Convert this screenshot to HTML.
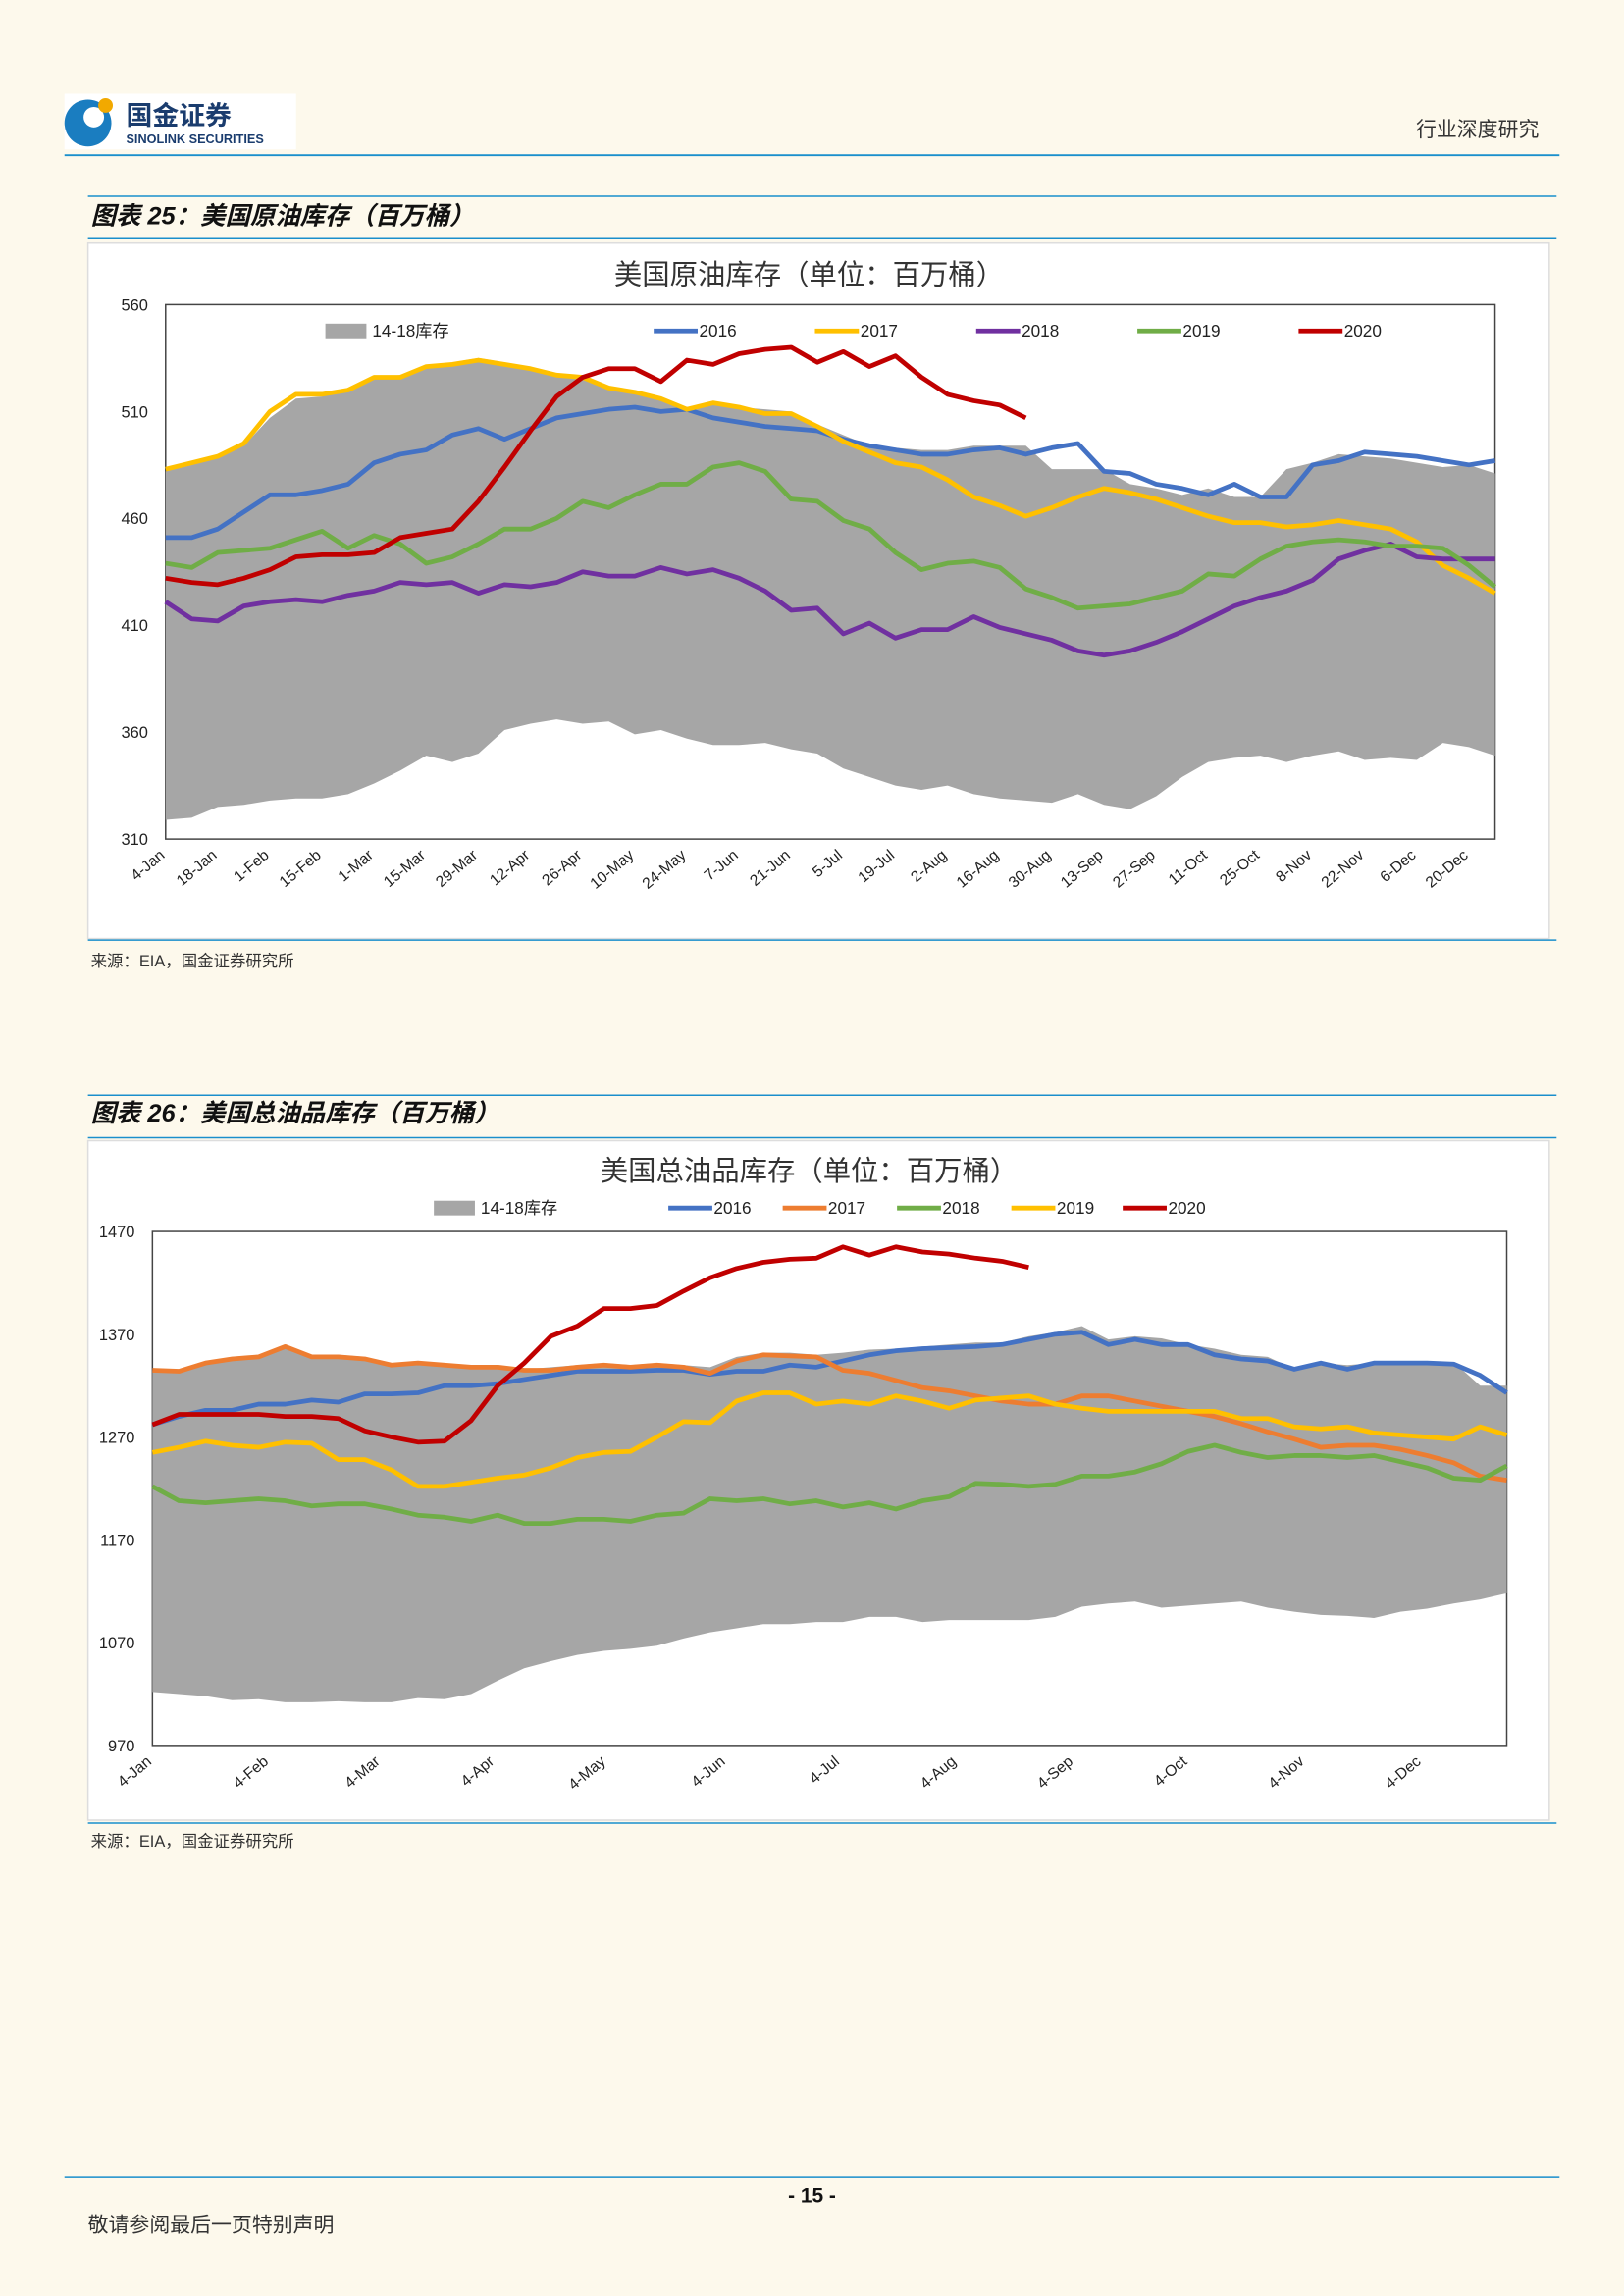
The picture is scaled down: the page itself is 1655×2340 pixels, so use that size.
<!DOCTYPE html>
<html><head><meta charset="utf-8"><style>
html,body{margin:0;padding:0;background:#fdf9ec;}
svg{display:block;}
text{font-family:"Liberation Sans","Noto Sans CJK SC",sans-serif;}
</style></head><body>
<svg id="s" width="1655" height="2340" viewBox="0 0 1108 1568" preserveAspectRatio="none" xmlns="http://www.w3.org/2000/svg">
<rect width="1108" height="1568" fill="#fdf9ec"/>
<g>
<rect x="44" y="64" width="158" height="38" fill="#fff"/>
<circle cx="60" cy="84" r="16" fill="#1a7dc0"/>
<circle cx="64" cy="80" r="7" fill="#fff"/><circle cx="72" cy="72" r="5" fill="#f2a900"/>
<text x="86" y="85" font-size="18" font-weight="bold" fill="#1a3c6e">国金证券</text>
<text x="86" y="98" font-size="8.5" font-weight="bold" fill="#1a3c6e">SINOLINK SECURITIES</text>
<text x="1050" y="93" font-size="14" text-anchor="end" fill="#333" font-family="Noto Serif CJK SC, serif">行业深度研究</text>
<line x1="44" y1="106" x2="1064" y2="106" stroke="#1a8fcc" stroke-width="1.2"/>
</g>
<g>
<line x1="60" y1="134" x2="1062" y2="134" stroke="#1a8fcc"/>
<text x="62" y="153" font-size="17" font-weight="bold" font-style="italic" fill="#111">图表 25：美国原油库存（百万桶）</text>
<line x1="60" y1="163" x2="1062" y2="163" stroke="#1a8fcc"/>
</g>
<rect x="60" y="166" width="997" height="475" fill="#fff" stroke="#ddd"/>
<line x1="60" y1="642" x2="1062" y2="642" stroke="#1a8fcc"/>
<text x="62" y="660" font-size="11" fill="#333">来源：EIA，国金证券研究所</text>
<g>
<line x1="60" y1="748" x2="1062" y2="748" stroke="#1a8fcc"/>
<text x="62" y="766" font-size="17" font-weight="bold" font-style="italic" fill="#111">图表 26：美国总油品库存（百万桶）</text>
<line x1="60" y1="777" x2="1062" y2="777" stroke="#1a8fcc"/>
</g>
<rect x="60" y="779" width="997" height="464" fill="#fff" stroke="#ddd"/>
<line x1="60" y1="1245" x2="1062" y2="1245" stroke="#1a8fcc"/>
<text x="62" y="1261" font-size="11" fill="#333">来源：EIA，国金证券研究所</text>
<g>
<line x1="44" y1="1487" x2="1064" y2="1487" stroke="#1a8fcc"/>
<text x="554" y="1504" font-size="14" font-weight="bold" text-anchor="middle" fill="#111">- 15 -</text>
<text x="60" y="1524" font-size="14" fill="#333" font-family="Noto Serif CJK SC, serif">敬请参阅最后一页特别声明</text>
</g>
<g id="c1"></g><g id="c2"></g>
</svg>
<script>
// Chart 1 data: US crude inventory (million barrels), weekly
const c1Labels=["4-Jan","18-Jan","1-Feb","15-Feb","1-Mar","15-Mar","29-Mar","12-Apr","26-Apr","10-May","24-May","7-Jun","21-Jun","5-Jul","19-Jul","2-Aug","16-Aug","30-Aug","13-Sep","27-Sep","11-Oct","25-Oct","8-Nov","22-Nov","6-Dec","20-Dec"];
const c1Ticks=[310,360,410,460,510,560];
const c1BandMax=[482,485,489,494,507,516,517,520,526,527,531,533,535,533,530,527,526,522,519,516,512,514,512,511,510,504,499,494,493,492,492,494,494,494,483,483,483,476,474,471,474,470,470,483,486,490,489,488,486,484,485,481];
const c1BandMin=[319,320,325,326,328,329,329,331,336,342,349,346,350,361,364,366,364,365,359,361,357,354,354,355,352,350,343,339,335,333,335,331,329,328,327,331,326,324,330,339,346,348,349,346,349,351,347,348,347,355,353,349];
const c1_2016=[451,451,455,463,471,471,473,476,486,490,492,499,502,497,502,507,509,511,512,510,511,507,505,503,502,501,497,494,492,490,490,492,493,490,493,495,482,481,476,474,471,476,470,470,485,487,491,490,489,487,485,487];
const c1_2017=[483,486,489,495,510,518,518,520,526,526,531,532,534,532,530,527,526,521,519,516,511,514,512,509,509,503,496,491,486,484,478,470,466,461,465,470,474,472,469,465,461,458,458,456,457,459,457,455,449,438,432,425];
const c1_2018=[421,413,412,419,421,422,421,424,426,430,429,430,425,429,428,430,435,433,433,437,434,436,432,426,417,418,406,411,404,408,408,414,409,406,403,398,396,398,402,407,413,419,423,426,431,441,445,448,442,441,441,441];
const c1_2019=[439,437,444,445,446,450,454,446,452,448,439,442,448,455,455,460,468,465,471,476,476,484,486,482,469,468,459,455,444,436,439,440,437,427,423,418,419,420,423,426,434,433,441,447,449,450,449,447,447,446,438,428];
const c1_2020=[432,430,429,432,436,442,443,443,444,451,453,455,468,484,501,517,526,530,530,524,534,532,537,539,540,533,538,531,536,526,518,515,513,507];

// Chart 2 data: US total petroleum inventory
const c2Labels=["4-Jan","4-Feb","4-Mar","4-Apr","4-May","4-Jun","4-Jul","4-Aug","4-Sep","4-Oct","4-Nov","4-Dec"];
const c2LabelWeeks=[0,4.4,8.6,12.9,17.1,21.6,25.9,30.3,34.7,39,43.4,47.8];
const c2Ticks=[970,1070,1170,1270,1370,1470];
const c2BandMax=[1335,1336,1342,1348,1350,1358,1350,1350,1348,1342,1342,1340,1338,1338,1336,1338,1340,1342,1340,1342,1340,1338,1348,1352,1352,1350,1352,1355,1356,1358,1360,1362,1362,1368,1372,1378,1365,1368,1366,1360,1356,1350,1348,1336,1342,1340,1342,1342,1342,1343,1320,1320];
const c2BandMin=[1022,1020,1018,1014,1015,1012,1012,1013,1012,1012,1016,1015,1020,1033,1045,1052,1058,1062,1064,1067,1074,1080,1084,1088,1088,1090,1090,1095,1095,1090,1092,1092,1092,1092,1095,1105,1108,1110,1104,1106,1108,1110,1104,1100,1097,1096,1094,1100,1103,1108,1112,1118];
const c2_2016=[1282,1290,1296,1296,1302,1302,1306,1304,1312,1312,1313,1320,1320,1322,1326,1330,1334,1334,1334,1335,1335,1331,1334,1334,1340,1338,1344,1350,1354,1356,1357,1358,1360,1365,1370,1372,1360,1365,1360,1360,1350,1346,1344,1336,1342,1336,1342,1342,1342,1341,1330,1313];
const c2_2017=[1335,1334,1342,1346,1348,1358,1348,1348,1346,1340,1342,1340,1338,1338,1335,1335,1338,1340,1338,1340,1338,1332,1344,1350,1349,1348,1335,1332,1325,1318,1315,1310,1305,1302,1302,1310,1310,1305,1300,1295,1290,1283,1275,1268,1260,1262,1262,1258,1252,1245,1232,1228];
const c2_2018=[1222,1208,1206,1208,1210,1208,1203,1205,1205,1200,1194,1192,1188,1194,1186,1186,1190,1190,1188,1194,1196,1210,1208,1210,1205,1208,1202,1206,1200,1208,1212,1225,1224,1222,1224,1232,1232,1236,1244,1256,1262,1255,1250,1252,1252,1250,1252,1246,1240,1230,1228,1242];
const c2_2019=[1255,1260,1266,1262,1260,1265,1264,1248,1248,1238,1222,1222,1226,1230,1233,1240,1250,1255,1256,1270,1285,1284,1305,1313,1313,1302,1305,1302,1310,1305,1298,1306,1308,1310,1302,1298,1295,1295,1295,1295,1295,1288,1288,1280,1278,1280,1274,1272,1270,1268,1280,1272];
const c2_2020=[1282,1292,1292,1292,1292,1290,1290,1288,1276,1270,1265,1266,1286,1320,1342,1368,1378,1395,1395,1398,1412,1425,1434,1440,1443,1444,1455,1447,1455,1450,1448,1444,1441,1435];

const NS="http://www.w3.org/2000/svg";
function mk(p,tag,a){const e=document.createElementNS(NS,tag);for(const k in a)e.setAttribute(k,a[k]);p.appendChild(e);return e;}

function chart(g,o){
  const xs=i=>o.x0+i*(o.x1-o.x0)/51;
  const ys=v=>o.y1-(v-o.vmin)/(o.vmax-o.vmin)*(o.y1-o.y0);
  const t=mk(g,'text',{x:o.tx,y:o.ty,'font-size':19,'text-anchor':'middle',fill:'#333'});
  
  
  t.textContent=o.title;
  const pa=mk(g,'rect',{x:o.x0,y:o.y0,width:o.x1-o.x0,height:o.y1-o.y0,fill:'#fff',stroke:'#444','stroke-width':1});
  
  
  let d='';o.bmax.forEach((v,i)=>d+=(i?'L':'M')+xs(i)+' '+ys(v));
  for(let i=o.bmin.length-1;i>=0;i--)d+='L'+xs(i)+' '+ys(o.bmin[i]);
  const band=mk(g,'path',{d:d+'Z',fill:'#a6a6a6'});
  
  
  o.ticks.forEach(v=>{
    const tl=mk(g,'text',{x:o.x0-12,y:ys(v)+4,'font-size':11,'text-anchor':'end',fill:'#222'});
    
    
    tl.textContent=v;
  });
  o.xl.forEach((l,k)=>{
    const x=xs(o.xw[k]);
    const tl=mk(g,'text',{x:x,y:o.y1+12,'font-size':10.5,'text-anchor':'end',fill:'#222',transform:`rotate(-40 ${x} ${o.y1+12})`});
    
    
    tl.textContent=l;
  });
  o.series.forEach(s=>{
    const p=mk(g,'polyline',{points:s.v.map((v,i)=>xs(i)+','+ys(v)).join(' '),fill:'none',stroke:s.c,'stroke-width':3.2,'stroke-linejoin':'round'});
    
    
  });
  o.legend.forEach(L=>{
    const lg=mk(g,'g',{});
    
    
    if(L.band)mk(lg,'rect',{x:L.x,y:o.ly-5,width:28,height:10,fill:'#a6a6a6'});
    else mk(lg,'line',{x1:L.x,y1:o.ly,x2:L.x+30,y2:o.ly,stroke:L.c,'stroke-width':3.2});
    const tx=mk(lg,'text',{x:L.x+(L.band?32:31),y:o.ly+4,'font-size':11.5,fill:'#222'});tx.textContent=L.t;
  });
}
const wk1=c1Labels.map((_,i)=>i*2);
chart(document.getElementById('c1'),{title:'美国原油库存（单位：百万桶）',tx:552,ty:194,x0:113,x1:1020,y0:208,y1:573,vmin:310,vmax:560,
 bmax:c1BandMax,bmin:c1BandMin,ticks:c1Ticks,xl:c1Labels,xw:wk1,ly:226,
 series:[{n:'2016',v:c1_2016,c:'#4472c4'},{n:'2017',v:c1_2017,c:'#ffc000'},{n:'2018',v:c1_2018,c:'#7030a0'},{n:'2019',v:c1_2019,c:'#70ad47'},{n:'2020',v:c1_2020,c:'#c00000'}],
 legend:[{band:1,x:222,t:'14-18库存'},{x:446,c:'#4472c4',t:'2016'},{x:556,c:'#ffc000',t:'2017'},{x:666,c:'#7030a0',t:'2018'},{x:776,c:'#70ad47',t:'2019'},{x:886,c:'#c00000',t:'2020'}]});
chart(document.getElementById('c2'),{title:'美国总油品库存（单位：百万桶）',tx:552,ty:806,x0:104,x1:1028,y0:841,y1:1192,vmin:970,vmax:1470,
 bmax:c2BandMax,bmin:c2BandMin,ticks:c2Ticks,xl:c2Labels,xw:c2LabelWeeks,ly:825,
 series:[{n:'2016',v:c2_2016,c:'#4472c4'},{n:'2017',v:c2_2017,c:'#ed7d31'},{n:'2018',v:c2_2018,c:'#70ad47'},{n:'2019',v:c2_2019,c:'#ffc000'},{n:'2020',v:c2_2020,c:'#c00000'}],
 legend:[{band:1,x:296,t:'14-18库存'},{x:456,c:'#4472c4',t:'2016'},{x:534,c:'#ed7d31',t:'2017'},{x:612,c:'#70ad47',t:'2018'},{x:690,c:'#ffc000',t:'2019'},{x:766,c:'#c00000',t:'2020'}]});
</script>
</body></html>
